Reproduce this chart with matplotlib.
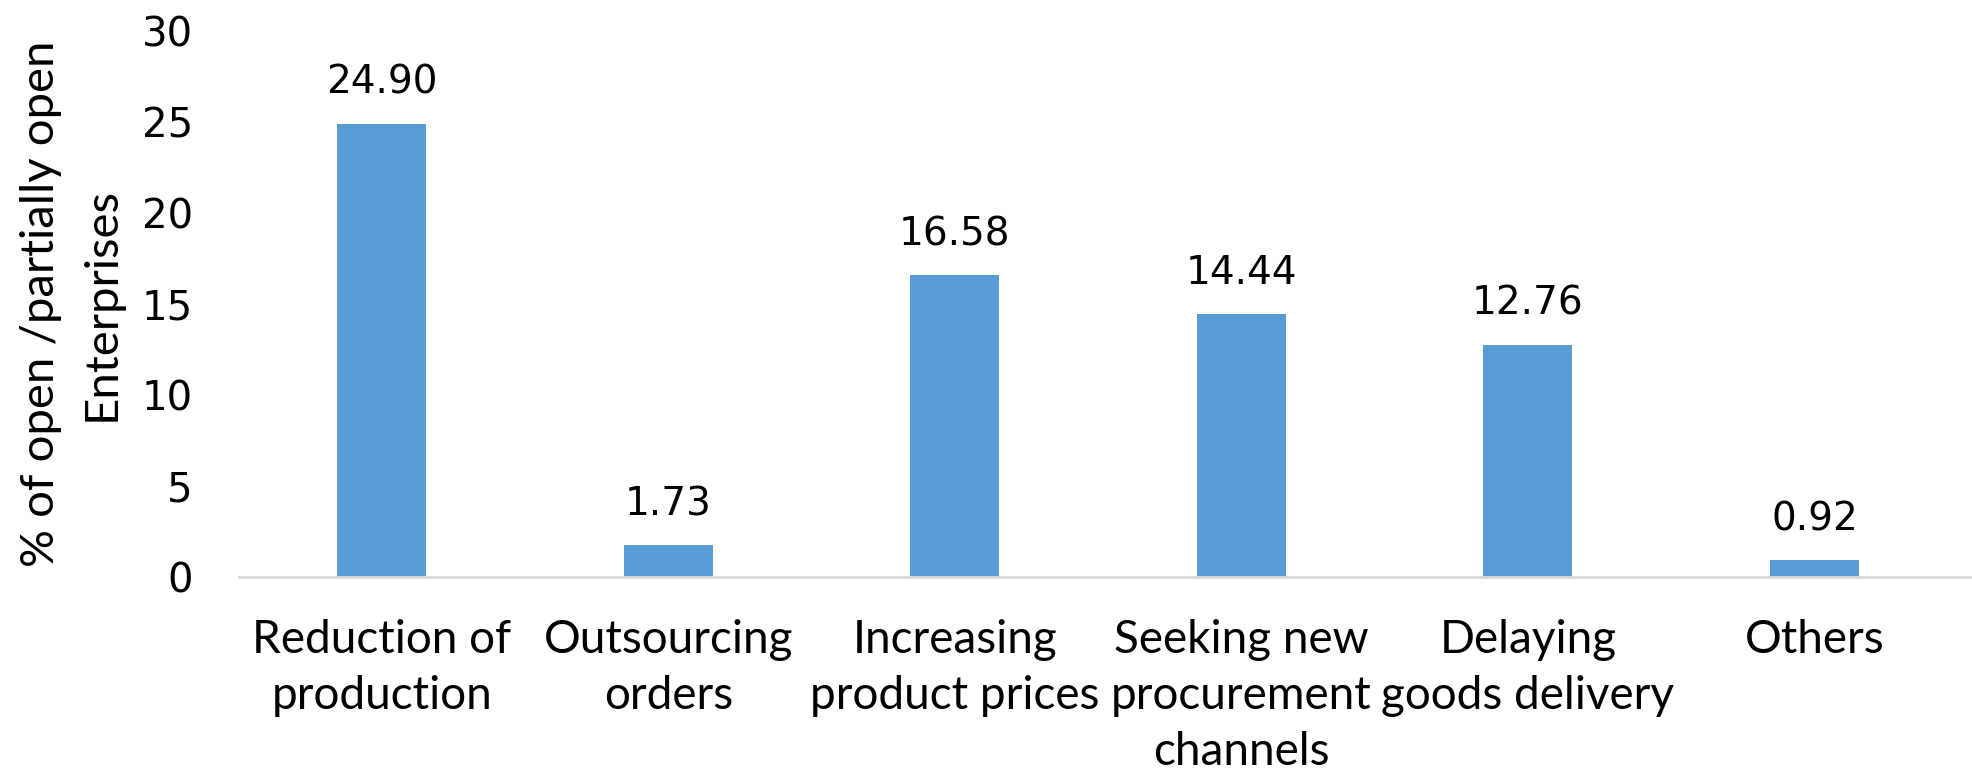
import matplotlib
matplotlib.use('Agg')
import matplotlib.pyplot as plt

categories = ['Reduction of\nproduction', 'Outsourcing\norders', 'Increasing\nproduct prices',
              'Seeking new\nprocurement\nchannels', 'Delaying\ngoods delivery', 'Others']
values = [24.90, 1.73, 16.58, 14.44, 12.76, 0.92]
yticks = [0, 5, 10, 15, 20, 25, 30]

narrow = ['Lato', 'DejaVu Sans']

fig = plt.figure(figsize=(19.72, 7.73), dpi=100)
ax = fig.add_axes([0.121, 0.2536, 0.879, 0.706])

x = range(len(categories))
ax.bar(x, values, width=0.31, color='#5B9BD5')
for xi, v in zip(x, values):
    ax.annotate(f'{v:.2f}', (xi, v), xytext=(0, 16), textcoords='offset points',
                ha='center', va='bottom', fontsize=28, family='DejaVu Sans')

ax.set_xlim(-0.5, 5.55)
ax.set_ylim(0, 30)
ax.set_yticks(yticks)
ax.set_yticklabels([str(t) for t in yticks], fontsize=29, family='DejaVu Sans')
ax.set_xticks(list(x))
ax.set_xticklabels(categories, fontsize=33, family=narrow, linespacing=1.42)
ax.tick_params(axis='y', length=0, pad=33)
ax.tick_params(axis='x', length=0, pad=30)

for s in ['top', 'right', 'left']:
    ax.spines[s].set_visible(False)
ax.spines['bottom'].set_color('#D9D9D9')
ax.spines['bottom'].set_linewidth(2)

ax.set_ylabel('% of open /partially open\nEnterprises', fontsize=34, family=narrow,
              linespacing=1.55)
ax.yaxis.set_label_coords(-0.067, 0.5)

plt.savefig('out.png', dpi=100)
plt.close()
